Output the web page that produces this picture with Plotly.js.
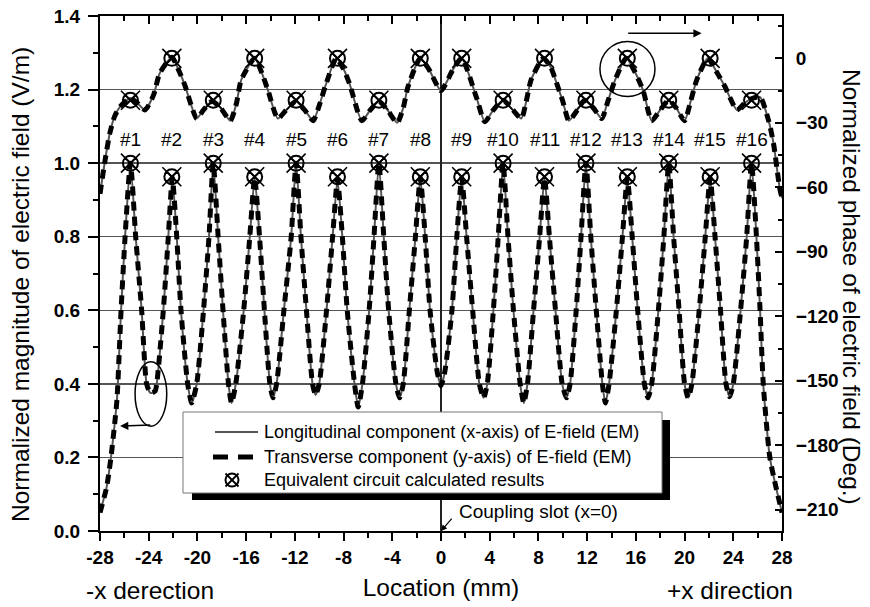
<!DOCTYPE html>
<html>
<head>
<meta charset="utf-8">
<script src="https://cdn.plot.ly/plotly-3.0.1.min.js"></script>
<style>
  html, body { margin: 0; padding: 0; background: #fff; }
  #chart { width: 870px; height: 607px; }
</style>
</head>
<body>
<div id="chart"></div>
<script>
// Slot centres along the line (mm) and their labels
const slotX = [-25.5, -22.1, -18.7, -15.3, -11.9, -8.5, -5.1, -1.7,
               1.7, 5.1, 8.5, 11.9, 15.3, 18.7, 22.1, 25.5];
const slotLabels = ['#1', '#2', '#3', '#4', '#5', '#6', '#7', '#8',
                    '#9', '#10', '#11', '#12', '#13', '#14', '#15', '#16'];

// Equivalent-circuit results at each slot
const circuitMag = [1.0, 0.963, 1.0, 0.963, 1.0, 0.963, 1.0, 0.963,
                    0.963, 1.0, 0.963, 1.0, 0.963, 1.0, 0.963, 1.0];
const circuitPhase = [-19.5, 0, -19.5, 0, -19.5, 0, -19.5, 0,
                      0, -19.5, 0, -19.5, 0, -19.5, 0, -19.5];

// EM-simulated normalized magnitude along the line (both components coincide)
const magX = [
  -28.0, -27.45, -27.1, -26.8, -26.6, -26.27, -25.94, -25.5,
  -25.07, -24.58, -24.17, -23.85, -23.48, -23.34, -22.8, -22.39, -22.06,
  -21.7, -21.35, -20.8, -20.47, -20.06, -19.5, -19.05, -18.7,
  -18.3, -17.9, -17.45, -17.2, -16.85, -16.2, -15.7, -15.3,
  -14.9, -14.5, -14.05, -13.8, -13.5, -12.9, -12.3, -11.9,
  -11.5, -11.05, -10.55, -10.3, -10.0, -9.4, -8.9, -8.5,
  -8.1, -7.7, -7.1, -6.8, -6.45, -5.9, -5.5, -5.1,
  -4.7, -4.3, -3.7, -3.4, -3.1, -2.6, -2.1, -1.7,
  -1.3, -0.9, -0.3, 0, 0.3, 0.9, 1.3, 1.7,
  2.1, 2.6, 3.15, 3.5, 3.8, 4.3, 4.7, 5.1,
  5.5, 5.95, 6.5, 6.8, 7.1, 7.6, 8.1, 8.5,
  8.9, 9.4, 9.95, 10.3, 10.6, 11.1, 11.5, 11.9,
  12.3, 12.75, 13.25, 13.5, 13.8, 14.4, 14.9, 15.3,
  15.7, 16.15, 16.7, 17.0, 17.3, 17.85, 18.3, 18.7,
  19.1, 19.55, 20.0, 20.3, 20.6, 21.2, 21.7, 22.1,
  22.5, 22.95, 23.4, 23.7, 24.0, 24.6, 25.1, 25.5,
  25.9, 26.2, 26.46, 27.0, 27.5, 28.0
];
const magY = [
  0.05, 0.12, 0.2, 0.29, 0.36, 0.6, 0.8, 1.0,
  0.8, 0.6, 0.4, 0.375, 0.38, 0.4, 0.6, 0.8, 0.96,
  0.8, 0.6, 0.4, 0.348, 0.4, 0.6, 0.8, 1.0,
  0.8, 0.6, 0.4, 0.348, 0.4, 0.6, 0.8, 0.96,
  0.8, 0.6, 0.4, 0.362, 0.4, 0.6, 0.8, 1.0,
  0.8, 0.6, 0.4, 0.37, 0.4, 0.6, 0.8, 0.955,
  0.8, 0.6, 0.4, 0.337, 0.4, 0.6, 0.8, 1.0,
  0.8, 0.6, 0.4, 0.362, 0.4, 0.6, 0.8, 0.96,
  0.8, 0.6, 0.43, 0.395, 0.43, 0.6, 0.8, 0.96,
  0.8, 0.6, 0.4, 0.362, 0.4, 0.6, 0.8, 1.0,
  0.8, 0.6, 0.4, 0.348, 0.4, 0.6, 0.8, 0.96,
  0.8, 0.6, 0.4, 0.362, 0.4, 0.6, 0.8, 1.0,
  0.8, 0.6, 0.4, 0.348, 0.4, 0.6, 0.8, 0.96,
  0.8, 0.6, 0.4, 0.362, 0.4, 0.6, 0.8, 1.0,
  0.8, 0.6, 0.4, 0.362, 0.4, 0.6, 0.8, 0.96,
  0.8, 0.6, 0.4, 0.365, 0.4, 0.6, 0.8, 1.0,
  0.8, 0.6, 0.4, 0.2, 0.12, 0.05
];

// EM-simulated normalized phase along the line (deg)
const phaseX = [
  -28.0, -27.6, -27.2, -26.8, -26.35, -25.5, -24.9, -24.3, -23.6, -23.1,
  -22.1, -21.5, -21.0, -20.5, -20.06, -19.5, -18.8, -18.1, -17.3, -16.8,
  -16.4, -15.3, -14.7, -14.2, -13.4, -12.7, -11.9, -11.2, -10.5, -10.0,
  -9.5, -8.6, -8.0, -7.5, -6.5, -5.8, -5.1, -4.4, -3.6, -3.1,
  -2.7, -1.7, -1.0, 0, 1.0, 1.7, 2.9, 3.6, 4.3, 5.1,
  5.9, 6.6, 7.0, 7.4, 8.4, 9.0, 9.4, 10.0, 10.5, 11.2,
  11.8, 12.5, 13.2, 13.7, 14.3, 15.2, 15.8, 16.6, 17.3, 18.0,
  18.7, 19.3, 20.0, 20.5, 21.0, 21.9, 22.6, 23.3, 24.3, 24.9,
  25.4, 26.2, 26.9, 27.3, 27.8, 28.0
];
const phaseY = [
  -63, -48, -35, -27, -22.5, -18.5, -21, -24, -17, -7,
  0.5, -6, -13, -22, -28, -24, -20, -23, -29, -21,
  -10, 0, -7, -15, -28, -24, -20, -24, -29, -22,
  -13, 0, -5, -12, -29, -24, -20, -24, -30, -23,
  -13, 0, -5, -15, -5, 0, -18, -29.5, -24, -19.5,
  -24, -28, -20, -10, 0, -4, -10, -20, -29, -24,
  -19.5, -23, -28, -20, -10, 0, -5, -15, -29, -24,
  -19.5, -23, -29, -20, -10, 0, -6, -13, -24, -21,
  -19, -18, -29, -39.5, -60, -65
];

const xTickVals = [-28, -24, -20, -16, -12, -8, -4, 0, 4, 8, 12, 16, 20, 24, 28];

// Legend entries
const legendNames = [
  'Longitudinal component (x-axis) of E-field (EM)',
  'Transverse component (y-axis) of E-field (EM)',
  'Equivalent circuit calculated results'
];

// ---- frame geometry (px) and helpers to place decorations in paper space ----
const W = 870, H = 607;
const M = { l: 100, r: 88, t: 16, b: 76 };
const PW = W - M.l - M.r, PH = H - M.t - M.b;
const fx = p => (p - M.l) / PW;
const fy = p => (H - M.b - p) / PH;

const FONT = 'Liberation Sans, Arial, Helvetica, sans-serif';
const LONG_STYLE = { color: '#555555', width: 2 };
const TRANS_STYLE = { color: '#000000', width: 5, dash: '9px,6px' };
const smooth = { shape: 'spline', smoothing: 0.6 };

const circleMarker = { symbol: 'circle-x-open', size: 15, color: '#000', line: { width: 2, color: '#000' } };
const crossMarker = { symbol: 'x-thin-open', size: 19, color: '#000', line: { width: 1.6, color: '#000' } };

const traces = [
  // magnitude (left axis)
  { x: magX, y: magY, xaxis: 'x', yaxis: 'y', mode: 'lines', name: legendNames[0],
    line: Object.assign({}, LONG_STYLE, smooth), hoverinfo: 'skip' },
  { x: magX, y: magY, xaxis: 'x', yaxis: 'y', mode: 'lines', name: legendNames[1],
    line: Object.assign({}, TRANS_STYLE, smooth), hoverinfo: 'skip' },
  // phase (right axis)
  { x: phaseX, y: phaseY, xaxis: 'x2', yaxis: 'y2', mode: 'lines', name: legendNames[0],
    line: Object.assign({}, LONG_STYLE, smooth), hoverinfo: 'skip' },
  { x: phaseX, y: phaseY, xaxis: 'x2', yaxis: 'y2', mode: 'lines', name: legendNames[1],
    line: Object.assign({}, TRANS_STYLE, smooth), hoverinfo: 'skip' },
  // equivalent-circuit points
  { x: slotX, y: circuitMag, xaxis: 'x', yaxis: 'y', mode: 'markers', name: legendNames[2], marker: circleMarker },
  { x: slotX, y: circuitMag, xaxis: 'x', yaxis: 'y', mode: 'markers', name: legendNames[2], marker: crossMarker },
  { x: slotX, y: circuitPhase, xaxis: 'x2', yaxis: 'y2', mode: 'markers', name: legendNames[2], marker: circleMarker },
  { x: slotX, y: circuitPhase, xaxis: 'x2', yaxis: 'y2', mode: 'markers', name: legendNames[2], marker: crossMarker }
];

const tickFont = { family: FONT, size: 19, color: '#000', weight: 'bold' };
const textFont = { family: FONT, size: 19, color: '#000' };
const legendFont = { family: FONT, size: 18, color: '#000' };
const titleFont = { family: FONT, size: 24.5, color: '#000' };

// slot labels above the magnitude peaks
const slotAnnotations = slotX.map((x, i) => ({
  x: x, y: 1.063, xref: 'x', yref: 'y', text: slotLabels[i], showarrow: false,
  font: textFont, xanchor: 'center', yanchor: 'middle'
}));

// boxed legend with drop shadow (px geometry)
const LEG = { left: 183, top: 412, right: 662, bottom: 493, rows: [432, 457, 480], textX: 262 };
const legendText = legendNames.map((t, i) => ({
  xref: 'paper', yref: 'paper', x: fx(LEG.textX), y: fy(LEG.rows[i]), text: t,
  showarrow: false, font: legendFont, xanchor: 'left', yanchor: 'middle'
}));

const annotations = slotAnnotations.concat(legendText, [
  // axis titles
  { xref: 'paper', yref: 'paper', x: fx(20), y: fy(285), text: 'Normalized magnitude of electric field (V/m)',
    textangle: -90, showarrow: false, font: titleFont, xanchor: 'center', yanchor: 'middle' },
  { xref: 'paper', yref: 'paper', x: fx(852), y: fy(287), text: 'Normalized phase of electric field (Deg.)',
    textangle: 90, showarrow: false, font: titleFont, xanchor: 'center', yanchor: 'middle' },
  { xref: 'paper', yref: 'paper', x: fx(150), y: fy(590), text: '-x derection',
    showarrow: false, font: titleFont, xanchor: 'center', yanchor: 'middle' },
  { xref: 'paper', yref: 'paper', x: fx(730), y: fy(590), text: '+x direction',
    showarrow: false, font: titleFont, xanchor: 'center', yanchor: 'middle' },
  // arrow from the circled phase peak towards the right axis
  { xref: 'x', yref: 'y', axref: 'x', ayref: 'y', x: 21.4, y: 1.353, ax: 15.25, ay: 1.353,
    text: '', showarrow: true, arrowhead: 2, arrowsize: 1.1, arrowwidth: 1.5, arrowcolor: '#000' },
  // arrow from the circled magnitude dip towards the left axis
  { xref: 'x', yref: 'y', axref: 'x', ayref: 'y', x: -26.35, y: 0.2854, ax: -23.75, ay: 0.288,
    text: '', showarrow: true, arrowhead: 2, arrowsize: 1.1, arrowwidth: 1.5, arrowcolor: '#000' },
  // coupling slot pointer
  { xref: 'x', yref: 'y', axref: 'x', ayref: 'y', x: 0, y: 0, ax: 0.985, ay: 0.038,
    text: '', showarrow: true, arrowhead: 2, arrowsize: 1, arrowwidth: 1.2, arrowcolor: '#000' },
  { xref: 'x', yref: 'y', x: 1.29, y: 0.0525, text: 'Coupling slot (x=0)', showarrow: false,
    font: textFont, xanchor: 'left', yanchor: 'middle' }
]);

const pline = (x0, y0, x1, y1, line) => ({
  type: 'line', xref: 'paper', yref: 'paper', x0: fx(x0), y0: fy(y0), x1: fx(x1), y1: fy(y1),
  line: line, layer: 'above'
});
const MK = { x: 232, y: LEG.rows[2], r: 6.5, arm: 6.5 };

const shapes = [
  // ellipse around the #13 phase peak
  { type: 'circle', xref: 'x', yref: 'y', x0: 13.05, x1: 17.57, y0: 1.181, y1: 1.331,
    line: { color: '#000', width: 1.5 }, layer: 'above' },
  // ellipse around the first magnitude dip
  { type: 'circle', xref: 'x', yref: 'y', x0: -25.12, x1: -22.52, y0: 0.285, y1: 0.460,
    line: { color: '#000', width: 1.5 }, layer: 'above' },
  // legend shadow and box
  { type: 'rect', xref: 'paper', yref: 'paper',
    x0: fx(LEG.left + 9), x1: fx(LEG.right + 8), y0: fy(LEG.bottom + 7), y1: fy(LEG.top + 8),
    fillcolor: '#000', line: { width: 0 }, layer: 'above' },
  { type: 'rect', xref: 'paper', yref: 'paper',
    x0: fx(LEG.left), x1: fx(LEG.right), y0: fy(LEG.bottom), y1: fy(LEG.top),
    fillcolor: '#fff', line: { color: '#777', width: 1 }, layer: 'above' },
  // legend samples
  pline(215, LEG.rows[0], 258, LEG.rows[0], LONG_STYLE),
  pline(213, LEG.rows[1], 253, LEG.rows[1], { color: '#000', width: 5, dash: '15px,10px' }),
  { type: 'circle', xref: 'paper', yref: 'paper',
    x0: fx(MK.x - MK.r), x1: fx(MK.x + MK.r), y0: fy(MK.y + MK.r), y1: fy(MK.y - MK.r),
    line: { color: '#000', width: 2 }, layer: 'above' },
  pline(MK.x - MK.arm, MK.y - MK.arm, MK.x + MK.arm, MK.y + MK.arm, { color: '#000', width: 1.8 }),
  pline(MK.x - MK.arm, MK.y + MK.arm, MK.x + MK.arm, MK.y - MK.arm, { color: '#000', width: 1.8 })
];

const layout = {
  width: W, height: H,
  margin: M,
  paper_bgcolor: '#fff', plot_bgcolor: '#fff',
  font: { family: FONT, color: '#000' },
  showlegend: false,
  xaxis: {
    range: [-28, 28], showline: true, linecolor: '#000', linewidth: 2,
    ticks: 'outside', tickvals: xTickVals, ticktext: xTickVals.map(String), ticklen: 8, tickwidth: 2, tickcolor: '#000',
    minor: { dtick: 2, tick0: 0, ticks: 'outside', ticklen: 5, tickwidth: 2, tickcolor: '#000', showgrid: false },
    tickfont: tickFont, showgrid: false,
    zeroline: true, zerolinecolor: '#222', zerolinewidth: 1.5,
    title: { text: 'Location (mm)', font: titleFont, standoff: 12 },
    fixedrange: true
  },
  xaxis2: {
    range: [-28, 28], overlaying: 'x', side: 'top', anchor: 'y2',
    showline: true, linecolor: '#000', linewidth: 2,
    ticks: 'inside', tickvals: xTickVals, ticklen: 8, tickwidth: 2, tickcolor: '#000',
    minor: { dtick: 2, tick0: 0, ticks: 'inside', ticklen: 5, tickwidth: 2, tickcolor: '#000', showgrid: false },
    showticklabels: false, showgrid: false, zeroline: false, fixedrange: true
  },
  yaxis: {
    range: [0, 1.4], showline: true, linecolor: '#000', linewidth: 2,
    ticks: 'outside', tick0: 0, dtick: 0.2, tickformat: '.1f', ticklen: 10, tickwidth: 2, tickcolor: '#000',
    minor: { dtick: 0.1, tick0: 0, ticks: 'outside', ticklen: 5, tickwidth: 2, tickcolor: '#000', showgrid: false },
    tickfont: tickFont, ticklabelstandoff: 4,
    showgrid: true, gridcolor: '#555', gridwidth: 1.3, zeroline: false, fixedrange: true
  },
  yaxis2: {
    range: [-219.9, 19.7], overlaying: 'y', side: 'right', anchor: 'x2',
    showline: true, linecolor: '#000', linewidth: 2,
    ticks: 'inside', tick0: 0, dtick: 30, ticklen: 7, tickwidth: 2, tickcolor: '#000',
    minor: { dtick: 15, tick0: 0, ticks: 'inside', ticklen: 4, tickwidth: 2, tickcolor: '#000', showgrid: false },
    tickfont: tickFont, ticklabelstandoff: 8,
    showgrid: false, zeroline: false, fixedrange: true
  },
  annotations: annotations,
  shapes: shapes
};

Plotly.newPlot('chart', traces, layout, { staticPlot: true, displayModeBar: false });
</script>
</body>
</html>
